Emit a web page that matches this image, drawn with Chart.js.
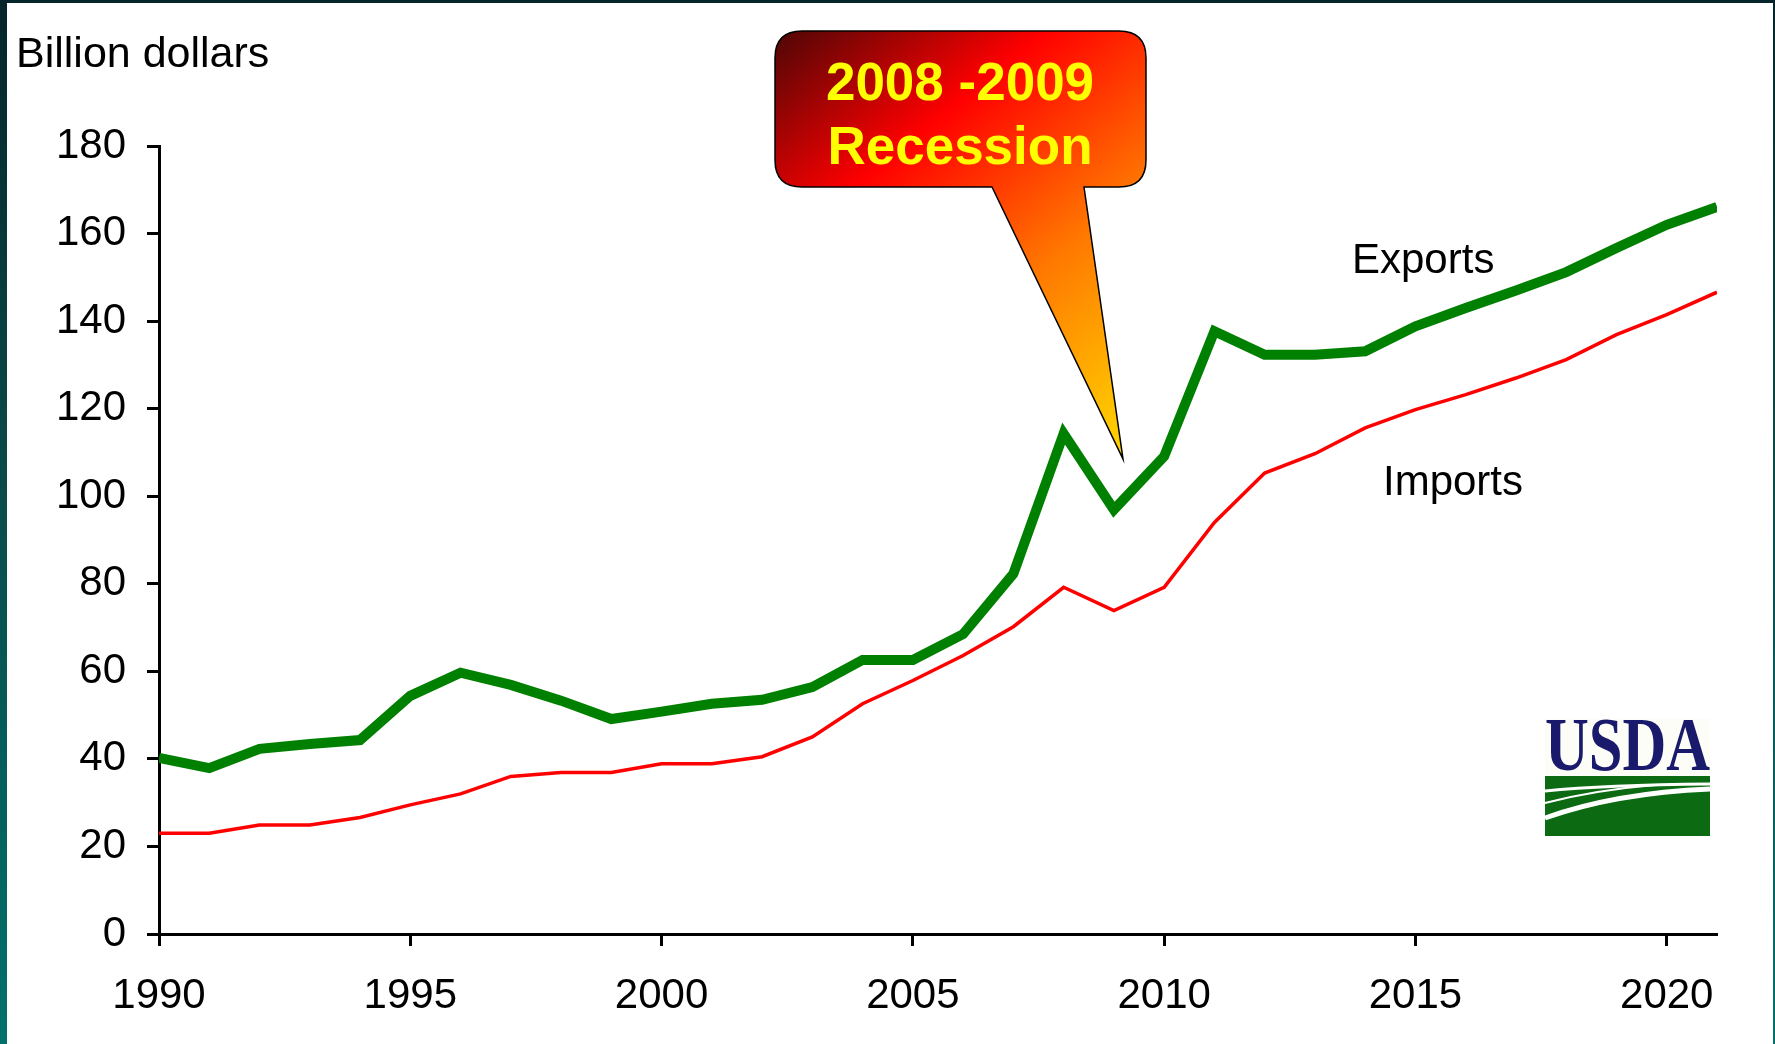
<!DOCTYPE html>
<html>
<head>
<meta charset="utf-8">
<script src="https://cdn.jsdelivr.net/npm/chart.js@4.4.1/dist/chart.umd.min.js"></script>
<style>
  html, body { margin: 0; padding: 0; }
  body {
    width: 1775px; height: 1044px; overflow: hidden;
    background: linear-gradient(to bottom, #05252a 0%, #0a4a48 45%, #00716b 100%);
    position: relative;
  }
  #panel {
    position: absolute; left: 7px; top: 3px; width: 1766px; height: 1041px;
    background: #ffffff;
  }
  canvas { display: block; }
</style>
</head>
<body>
<div id="panel"><canvas id="tradeChart" width="1766" height="1041"></canvas></div>
<script>
var years = [1990, 1991, 1992, 1993, 1994, 1995, 1996, 1997, 1998, 1999,
             2000, 2001, 2002, 2003, 2004, 2005, 2006, 2007, 2008, 2009,
             2010, 2011, 2012, 2013, 2014, 2015, 2016, 2017, 2018, 2019,
             2020, 2021];

// billion dollars
var exportsBn = [40.2, 37.9, 42.3, 43.4, 44.3, 54.4, 59.7, 56.9, 53.3, 49.1,
                 50.8, 52.6, 53.5, 56.4, 62.6, 62.6, 68.5, 82.3, 114.3, 96.9,
                 109.1, 137.7, 132.3, 132.3, 133.1, 138.8, 143.0, 147.0, 151.2, 156.7,
                 162.0, 166.1];
var importsBn = [23.0, 23.0, 24.9, 24.9, 26.6, 29.5, 32.0, 36.0, 36.9, 36.9,
                 38.9, 38.9, 40.5, 45.0, 52.6, 57.9, 63.6, 70.2, 79.2, 73.9,
                 79.2, 94.0, 105.3, 109.7, 115.6, 119.8, 123.2, 127.0, 131.2, 136.9,
                 141.5, 146.6];

var xTickYears = [1990, 1995, 2000, 2005, 2010, 2015, 2020];
var yTickValues = [0, 20, 40, 60, 80, 100, 120, 140, 160, 180];

Chart.defaults.font.family = "'Liberation Sans', Arial, sans-serif";
Chart.defaults.color = "#000";

function toPoints(vals) {
  return years.map(function(yr, i) { return { x: yr, y: vals[i] }; });
}

var extras = {
  id: "extras",
  afterDraw: function(chart) {
    var ctx = chart.ctx;
    ctx.save();

    // axis title and series names
    ctx.fillStyle = "#000";
    ctx.textAlign = "left";
    ctx.textBaseline = "alphabetic";
    ctx.font = "43px 'Liberation Sans', Arial, sans-serif";
    ctx.fillText("Billion dollars", 9, 64);
    ctx.font = "42px 'Liberation Sans', Arial, sans-serif";
    ctx.fillText("Exports", 1345, 270);
    ctx.fillText("Imports", 1376, 492);

    // recession callout
    var L = 768, T = 28, R = 1139, B = 184, r = 27;
    var grad = ctx.createLinearGradient(768, 28, 1116, 456);
    grad.addColorStop(0, "#4e0606");
    grad.addColorStop(0.31, "#ff0000");
    grad.addColorStop(0.64, "#ff7800");
    grad.addColorStop(1, "#ffd800");
    ctx.beginPath();
    ctx.moveTo(L + r, T);
    ctx.lineTo(R - r, T);
    ctx.quadraticCurveTo(R, T, R, T + r);
    ctx.lineTo(R, B - r);
    ctx.quadraticCurveTo(R, B, R - r, B);
    ctx.lineTo(1077, B);
    ctx.lineTo(1116, 456);
    ctx.lineTo(985, B);
    ctx.lineTo(L + r, B);
    ctx.quadraticCurveTo(L, B, L, B - r);
    ctx.lineTo(L, T + r);
    ctx.quadraticCurveTo(L, T, L + r, T);
    ctx.closePath();
    ctx.fillStyle = grad;
    ctx.fill();
    ctx.lineWidth = 1.5;
    ctx.strokeStyle = "#000";
    ctx.stroke();

    ctx.fillStyle = "#ffff00";
    ctx.textAlign = "center";
    ctx.font = "bold 53px 'Liberation Sans', Arial, sans-serif";
    ctx.fillText("2008 -2009", 953, 97);
    ctx.fillText("Recession", 953, 161);

    // USDA logo
    var lx = 1538, ly = 716, lw = 165, lh = 117;
    ctx.fillStyle = "#fdfdf8";
    ctx.fillRect(lx, ly, lw, lh);
    ctx.fillStyle = "#1a1a6c";
    ctx.textAlign = "left";
    ctx.font = "bold 76px 'Liberation Serif', 'DejaVu Serif', serif";
    ctx.fillText("USDA", lx, ly + 51, lw);
    ctx.fillStyle = "#0b6a12";
    ctx.fillRect(lx, ly + 57, lw, lh - 57);
    ctx.strokeStyle = "#ffffff";
    ctx.lineWidth = 5;
    ctx.beginPath();
    ctx.moveTo(lx, ly + 99);
    ctx.quadraticCurveTo(lx + 70, ly + 74, lx + lw, ly + 70);
    ctx.stroke();
    ctx.lineWidth = 3;
    ctx.beginPath();
    ctx.moveTo(lx, ly + 72);
    ctx.quadraticCurveTo(lx + 60, ly + 66, lx + lw, ly + 65);
    ctx.stroke();
    ctx.lineWidth = 2;
    ctx.beginPath();
    ctx.moveTo(lx, ly + 84);
    ctx.quadraticCurveTo(lx + 50, ly + 71, lx + 110, ly + 66);
    ctx.stroke();

    ctx.restore();
  }
};

var ctx = document.getElementById("tradeChart").getContext("2d");

var tradeChart = new Chart(ctx, {
  type: "line",
  data: {
    datasets: [{
      label: "Exports",
      data: toPoints(exportsBn),
      borderColor: "#008000",
      borderWidth: 10,
      pointRadius: 0,
      tension: 0,
      fill: false
    }, {
      label: "Imports",
      data: toPoints(importsBn),
      borderColor: "#ff0000",
      borderWidth: 3.5,
      pointRadius: 0,
      tension: 0,
      fill: false
    }]
  },
  options: {
    responsive: false,
    animation: false,
    devicePixelRatio: 1,
    layout: { padding: { top: 143, right: 56, left: 0, bottom: 0 } },
    plugins: {
      legend: { display: false },
      tooltip: { enabled: false }
    },
    scales: {
      x: {
        type: "linear",
        min: 1990,
        max: 2021,
        afterBuildTicks: function(scale) {
          scale.ticks = xTickYears.map(function(v) { return { value: v }; });
        },
        afterFit: function(scale) { scale.height = 110; },
        ticks: {
          font: { size: 42 },
          color: "#000",
          padding: 25,
          maxRotation: 0,
          autoSkip: false,
          callback: function(v) { return String(v); }
        },
        grid: {
          drawOnChartArea: false,
          drawTicks: true,
          tickLength: 12,
          tickWidth: 3,
          tickColor: "#000"
        },
        border: { display: true, color: "#000", width: 3 }
      },
      y: {
        min: 0,
        max: 180,
        afterBuildTicks: function(scale) {
          scale.ticks = yTickValues.map(function(v) { return { value: v }; });
        },
        afterFit: function(scale) { scale.width = 152; },
        ticks: {
          font: { size: 42 },
          color: "#000",
          padding: 21,
          autoSkip: false,
          callback: function(v) { return String(v); }
        },
        grid: {
          drawOnChartArea: false,
          drawTicks: true,
          tickLength: 12,
          tickWidth: 3,
          tickColor: "#000"
        },
        border: { display: true, color: "#000", width: 3 }
      }
    }
  },
  plugins: [extras]
});
</script>
</body>
</html>
